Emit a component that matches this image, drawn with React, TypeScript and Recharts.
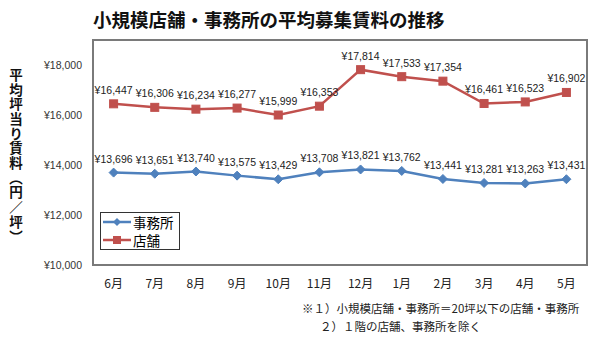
import React from "react";
import { LineChart, Line, XAxis, YAxis, Legend, LabelList } from "recharts";

// 月（横軸カテゴリ）
const months = ["6月", "7月", "8月", "9月", "10月", "11月", "12月", "1月", "2月", "3月", "4月", "5月"];
// 事務所（円／坪）
const officeRent = [13696, 13651, 13740, 13575, 13429, 13708, 13821, 13762, 13441, 13281, 13263, 13431];
// 店舗（円／坪）
const shopRent = [16447, 16306, 16234, 16277, 15999, 16353, 17814, 17533, 17354, 16461, 16523, 16902];
const yTicks = [10000, 12000, 14000, 16000, 18000];

const yLabel = "平均坪当り賃料（円／坪）";
const noteLines = ["※１）小規模店舗・事務所＝20坪以下の店舗・事務所", "２）１階の店舗、事務所を除く"];

const BLUE = "#4F81BD";
const RED = "#C0504D";
const FONT = '"Noto Sans CJK JP", "Noto Sans", sans-serif';
const NUM_FONT = '"Liberation Sans", Arial, sans-serif';

const data = months.map((m, i) => ({ month: m, office: officeRent[i], shop: shopRent[i] }));

const yen = (v: number) => "¥" + v.toLocaleString("en-US");

const Diamond = (props: any) => {
  const { cx, cy } = props;
  if (cx == null || cy == null) return null;
  return <path d={`M${cx},${cy - 4.5}L${cx + 4.5},${cy}L${cx},${cy + 4.5}L${cx - 4.5},${cy}Z`} fill={BLUE} stroke={BLUE} />;
};

const Square = (props: any) => {
  const { cx, cy } = props;
  if (cx == null || cy == null) return null;
  return <rect x={cx - 4} y={cy - 4} width={8} height={8} fill={RED} stroke={RED} />;
};

const LegendBox = () => (
  <div
    style={{
      border: "1px solid #333",
      background: "#fff",
      width: 78,
      padding: 0,
      fontFamily: FONT,
      fontSize: 13.5,
      lineHeight: "18px",
      color: "#000",
      textAlign: "left",
    }}
  >
    {[
      { name: "事務所", color: BLUE, shape: "d" },
      { name: "店舗", color: RED, shape: "s" },
    ].map((it) => (
      <div key={it.name} style={{ display: "flex", alignItems: "center", height: 18, overflow: "hidden" }}>
        <svg width={30} height={12} style={{ marginLeft: 2 }}>
          <line x1={0} y1={6} x2={28} y2={6} stroke={it.color} strokeWidth={2.5} />
          {it.shape === "d" ? (
            <path d="M14,2L18,6L14,10L10,6Z" fill={it.color} />
          ) : (
            <rect x={10} y={2} width={8} height={8} fill={it.color} />
          )}
        </svg>
        <span style={{ lineHeight: "18px" }}>{it.name}</span>
      </div>
    ))}
  </div>
);

export default function App() {
  return (
    <div style={{ position: "absolute", left: 0, top: 0, width: 600, height: 340, background: "#fff", fontFamily: FONT }}>
      <div
        style={{
          position: "absolute",
          left: 93,
          top: 6,
          fontSize: 18.5,
          fontWeight: "bold",
          color: "#111",
          whiteSpace: "nowrap",
          lineHeight: "26px",
        }}
      >
        小規模店舗・事務所の平均募集賃料の推移
      </div>
      <div
        style={{
          position: "absolute",
          left: 7,
          top: 68,
          height: 180,
          writingMode: "vertical-rl",
          fontSize: 13.5,
          fontWeight: "bold",
          letterSpacing: 1.2,
          lineHeight: "18px",
          color: "#111",
          whiteSpace: "nowrap",
        }}
      >
        {yLabel}
      </div>
      <LineChart width={600} height={340} data={data} margin={{ top: 40, right: 13, bottom: 45, left: 33 }}>
        <XAxis
          dataKey="month"
          padding={{ left: 20.6, right: 20.6 }}
          axisLine={false}
          tickLine={false}
          tick={{ fontSize: 12, fill: "#222", fontFamily: FONT }}
          tickMargin={8}
          height={30}
          interval={0}
        />
        <YAxis
          domain={[10000, 19000]}
          ticks={yTicks}
          width={60}
          axisLine={false}
          tickLine={false}
          tickSize={0}
          tickMargin={11}
          tickFormatter={yen}
          tick={{ fontSize: 10.5, fill: "#333", fontFamily: NUM_FONT }}
        />
        <Legend
          verticalAlign="middle"
          align="center"
          layout="horizontal"
          wrapperStyle={{ left: 100, top: 212, width: 80 }}
          content={() => <LegendBox />}
        />
        <Line
          name="事務所"
          dataKey="office"
          stroke={BLUE}
          strokeWidth={2.5}
          dot={<Diamond />}
          activeDot={false}
          isAnimationActive={false}
        >
          <LabelList dataKey="office" position="top" offset={10} formatter={(v: any) => yen(v)} style={{ fontSize: 10.5, fill: "#222", fontFamily: NUM_FONT }} />
        </Line>
        <Line
          name="店舗"
          dataKey="shop"
          stroke={RED}
          strokeWidth={2.5}
          dot={<Square />}
          activeDot={false}
          isAnimationActive={false}
        >
          <LabelList dataKey="shop" position="top" offset={10} formatter={(v: any) => yen(v)} style={{ fontSize: 10.5, fill: "#222", fontFamily: NUM_FONT }} />
        </Line>
      </LineChart>
      {/* 枠線 */}
      <div
        style={{
          position: "absolute",
          left: 92,
          top: 39,
          width: 496,
          height: 227,
          border: "2px solid #7a7a7a",
          boxSizing: "border-box",
          pointerEvents: "none",
        }}
      />
      <div style={{ position: "absolute", left: 302, top: 299, fontSize: 11.5, lineHeight: "18px", color: "#222", whiteSpace: "nowrap" }}>
        <div>{noteLines[0]}</div>
        <div style={{ paddingLeft: 18 }}>{noteLines[1]}</div>
      </div>
    </div>
  );
}
